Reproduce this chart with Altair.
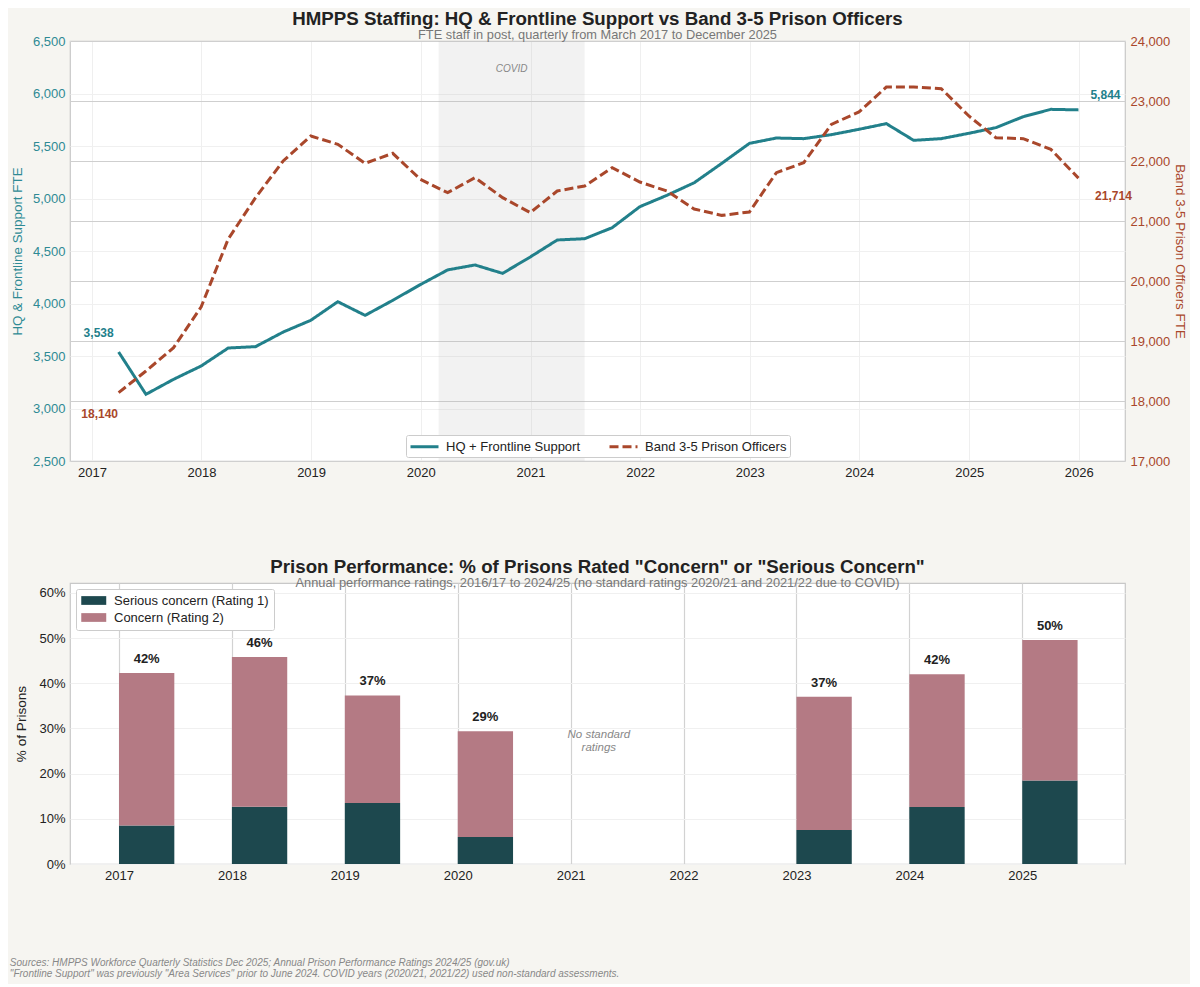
import altair as alt
import pandas as pd

# ---------------- data ----------------
quarters = [
    "2017-03-31", "2017-06-30", "2017-09-30", "2017-12-31",
    "2018-03-31", "2018-06-30", "2018-09-30", "2018-12-31",
    "2019-03-31", "2019-06-30", "2019-09-30", "2019-12-31",
    "2020-03-31", "2020-06-30", "2020-09-30", "2020-12-31",
    "2021-03-31", "2021-06-30", "2021-09-30", "2021-12-31",
    "2022-03-31", "2022-06-30", "2022-09-30", "2022-12-31",
    "2023-03-31", "2023-06-30", "2023-09-30", "2023-12-31",
    "2024-03-31", "2024-06-30", "2024-09-30", "2024-12-31",
    "2025-03-31", "2025-06-30", "2025-09-30", "2025-12-31",
]
hq_fte = [3538, 3135, 3278, 3405, 3576, 3589, 3728, 3840, 4017, 3887, 4030, 4180,
          4320, 4367, 4287, 4443, 4605, 4617, 4722, 4922, 5030, 5150, 5335, 5525,
          5576, 5570, 5608, 5659, 5713, 5554, 5570, 5621, 5675, 5779, 5849, 5844]
band_fte = [18140, 18500, 18889, 19570, 20700, 21389, 22000, 22417, 22278, 21961, 22128, 21694,
            21472, 21722, 21389, 21139, 21500, 21583, 21889, 21650, 21500, 21200, 21094, 21150,
            21806, 21972, 22611, 22817, 23233, 23233, 23206, 22750, 22389, 22372, 22194, 21714]
series_names = ["HQ + Frontline Support", "Band 3-5 Prison Officers"]
covid_period = ["2020-03-01", "2021-06-30"]

rating_years = [2017, 2018, 2019, 2020, 2023, 2024, 2025]
serious_pct = [8.5, 12.7, 13.5, 6.0, 7.5, 12.6, 18.5]
concern_pct = [33.8, 33.1, 23.8, 23.4, 29.5, 29.4, 31.1]
rating_names = ["Serious concern (Rating 1)", "Concern (Rating 2)"]
year_ticks = [2017, 2018, 2019, 2020, 2021, 2022, 2023, 2024, 2025]

# ---------------- styling ----------------
TEAL = "#22808b"
TEAL_LBL = "#2e8a94"
RUST = "#a9472b"
DARK = "#1d484e"
MAUVE = "#b47a84"
BG = "#f6f5f1"
FONT = "Liberation Sans"

W = 1055
H_TOP = 420
H_BOT = 281

# ---------------- top chart ----------------
staff = pd.DataFrame({
    "date": quarters * 2,
    "series": [series_names[0]] * len(quarters) + [series_names[1]] * len(quarters),
    "fte": hq_fte + band_fte,
})
hq_df = staff[staff.series == series_names[0]]
band_df = staff[staff.series == series_names[1]]

x_scale = alt.Scale(type="utc", domain=["2016-10-20", "2026-06-04"])
x_top = alt.X(
    "date:T", scale=x_scale,
    axis=alt.Axis(title=None, format="%Y", tickCount={"interval": "year", "step": 1},
                  grid=True, gridColor="#efefef", labelFontSize=13, labelColor="#222",
                  labelPadding=5),
)

color_enc = alt.Color(
    "series:N",
    scale=alt.Scale(domain=series_names, range=[TEAL, RUST]),
    legend=alt.Legend(
        title=None, orient="none", legendX=336, legendY=394, direction="horizontal",
        symbolType="M-1,0H3", symbolSize=196, symbolStrokeWidth=3,
        labelFontSize=13, labelColor="#222", columnPadding=22, labelOffset=20,
        fillColor="white", strokeColor="#cccccc", padding=3, cornerRadius=2,
    ),
)
dash_enc = alt.StrokeDash(
    "series:N",
    scale=alt.Scale(domain=series_names, range=[[1, 0], [9, 4]]),
    legend=None,
)

yl_scale = alt.Scale(domain=[2500, 6500], nice=False, zero=False)
yr_scale = alt.Scale(domain=[17000, 24000], nice=False, zero=False)

y_left = alt.Y(
    "fte:Q", scale=yl_scale,
    axis=alt.Axis(title="HQ & Frontline Support FTE", orient="left", values=list(range(2500, 6501, 500)),
                  format=",d", labelColor=TEAL_LBL, titleColor=TEAL_LBL, labelFontSize=13,
                  titleFontSize=13.4, titleFontWeight="normal", grid=True, gridColor="#f0f0f0",
                  titlePadding=8, labelPadding=5),
)
y_right = alt.Y(
    "fte:Q", scale=yr_scale,
    axis=alt.Axis(title="Band 3-5 Prison Officers FTE", orient="right", values=list(range(17000, 24001, 1000)),
                  format=",d", labelColor=RUST, titleColor=RUST, labelFontSize=13,
                  titleFontSize=13.4, titleFontWeight="normal", grid=True, gridColor="#cfcfcf",
                  gridWidth=1.2, titlePadding=3, labelPadding=5),
)

covid_df = pd.DataFrame({"start": [covid_period[0]], "end": [covid_period[1]], "label": ["COVID"]})
covid_rect = alt.Chart(covid_df).mark_rect(color="#b8b8b8", opacity=0.18).encode(
    x=alt.X("start:T", scale=x_scale), x2="end:T"
)
covid_text = alt.Chart(covid_df).transform_calculate(
    mid="(toDate(datum.start) + toDate(datum.end)) / 2"
).mark_text(fontStyle="italic", fontSize=10, color="#888", font=FONT).encode(
    x=alt.X("mid:T", scale=x_scale), y=alt.Y(datum=6230, scale=yl_scale), text="label:N"
)

hq_line = alt.Chart(hq_df).mark_line(strokeWidth=3).encode(
    x=x_top, y=y_left, color=color_enc, strokeDash=dash_enc
)


def end_label(df, color, dx, dy, scale):
    return alt.Chart(df).mark_text(
        fontWeight="bold", fontSize=12, color=color, dx=dx, dy=dy, font=FONT
    ).encode(
        x=alt.X("date:T", scale=x_scale),
        y=alt.Y("fte:Q", scale=scale),
        text=alt.Text("fte:Q", format=","),
    )


hq_first = end_label(hq_df.iloc[[0]], TEAL, -20, -19, yl_scale)
hq_last = end_label(hq_df.iloc[[-1]], TEAL, 27, -15, yl_scale)

band_line = alt.Chart(band_df).mark_line(strokeWidth=3).encode(
    x=x_top, y=y_right, color=color_enc, strokeDash=dash_enc
)
band_first = end_label(band_df.iloc[[0]], RUST, -19, 21, yr_scale)
band_last = end_label(band_df.iloc[[-1]], RUST, 35, 18, yr_scale)

left_layer = alt.layer(covid_rect, covid_text, hq_line, hq_first, hq_last)
right_layer = alt.layer(band_line, band_first, band_last)

title_style = dict(fontSize=18.7, fontWeight="bold", color="#222", subtitleFontSize=12.8,
                   subtitleColor="#777", subtitlePadding=1, offset=-7, anchor="middle",
                   frame="group")

top = alt.layer(left_layer, right_layer).resolve_scale(y="independent").properties(
    width=W, height=H_TOP,
    title=alt.Title(
        "HMPPS Staffing: HQ & Frontline Support vs Band 3-5 Prison Officers",
        subtitle="FTE staff in post, quarterly from March 2017 to December 2025",
        **title_style,
    ),
)

# ---------------- bottom chart ----------------
rows = []
for yr, s, c in zip(rating_years, serious_pct, concern_pct):
    rows.append({"year": yr, "rating": rating_names[0], "y0": 0.0, "y1": s})
    rows.append({"year": yr, "rating": rating_names[1], "y0": s, "y1": s + c})
seg = pd.DataFrame(rows)
totals = pd.DataFrame({"year": rating_years,
                       "total": [s + c for s, c in zip(serious_pct, concern_pct)]})

x_bot_scale = alt.Scale(domain=[2016.566, 2025.91], nice=False, zero=False)
y_bot_scale = alt.Scale(domain=[0, 62.2], nice=False)

bars = alt.Chart(seg).transform_calculate(
    x_end="datum.year + 0.49"
).mark_bar(stroke=None).encode(
    x=alt.X("year:Q", scale=x_bot_scale,
            axis=alt.Axis(title=None, values=year_ticks, format="d", grid=True,
                          gridColor="#d2d2d2", gridWidth=1.2, labelFontSize=13,
                          labelColor="#222", labelPadding=5)),
    x2="x_end:Q",
    y=alt.Y("y0:Q", scale=y_bot_scale,
            axis=alt.Axis(title="% of Prisons", values=list(range(0, 61, 10)),
                          labelExpr="datum.value + '%'", grid=True, gridColor="#f0f0f0",
                          labelFontSize=13, labelColor="#222", titleFontSize=13.6,
                          titleFontWeight="normal", titleColor="#222", titlePadding=10,
                          labelPadding=5)),
    y2="y1:Q",
    color=alt.Color("rating:N",
                    scale=alt.Scale(domain=rating_names, range=[DARK, MAUVE]),
                    legend=alt.Legend(title=None, orient="top-left", offset=6,
                                      symbolType="M-1,-0.7H3V0.7H-1Z", symbolSize=156,
                                      symbolStrokeWidth=0, labelFontSize=13,
                                      labelColor="#222", fillColor="white",
                                      strokeColor="#cccccc", padding=5, rowPadding=3,
                                      labelOffset=20, cornerRadius=2)),
)

bar_labels = alt.Chart(totals).transform_calculate(
    xm="datum.year + 0.245",
    lbl="format(datum.total, '.0f') + '%'",
).mark_text(fontWeight="bold", fontSize=13, color="#222", baseline="bottom", dy=-7, font=FONT).encode(
    x=alt.X("xm:Q", scale=x_bot_scale), y=alt.Y("total:Q", scale=y_bot_scale), text="lbl:N"
)

no_rating = alt.Chart(pd.DataFrame({"x": [2021.25], "y": [28.6],
                                    "t": [["No standard", "ratings"]]})).mark_text(
    fontStyle="italic", fontSize=11.5, color="#888", font=FONT, lineHeight=13
).encode(x=alt.X("x:Q", scale=x_bot_scale), y=alt.Y("y:Q", scale=y_bot_scale), text="t")

bottom = alt.layer(bars, bar_labels, no_rating).properties(
    width=W, height=H_BOT,
    title=alt.Title(
        'Prison Performance: % of Prisons Rated "Concern" or "Serious Concern"',
        subtitle="Annual performance ratings, 2016/17 to 2024/25 (no standard ratings 2020/21 and 2021/22 due to COVID)",
        **title_style,
    ),
)

chart = alt.vconcat(top, bottom, spacing=122, bounds="flush").resolve_scale(
    color="independent", strokeDash="independent"
).resolve_legend(color="independent", strokeDash="independent").properties(
    padding={"left": 1, "top": 0, "right": 2, "bottom": 5},
    title=alt.Title(
        ["Sources: HMPPS Workforce Quarterly Statistics Dec 2025; Annual Prison Performance Ratings 2024/25 (gov.uk)",
         "\"Frontline Support\" was previously \"Area Services\" prior to June 2024. COVID years (2020/21, 2021/22) used non-standard assessments."],
        orient="bottom", anchor="start", fontSize=10, fontStyle="italic", fontWeight="normal",
        color="#888", offset=75, lineHeight=11, frame="bounds",
    ),
).configure(
    background=BG, font=FONT,
).configure_view(
    fill="white", stroke="#c8c8c8", strokeWidth=1.2,
).configure_axis(
    domain=False, ticks=False,
)

chart.save("out.html", embed_options={"renderer": "svg", "actions": False})
